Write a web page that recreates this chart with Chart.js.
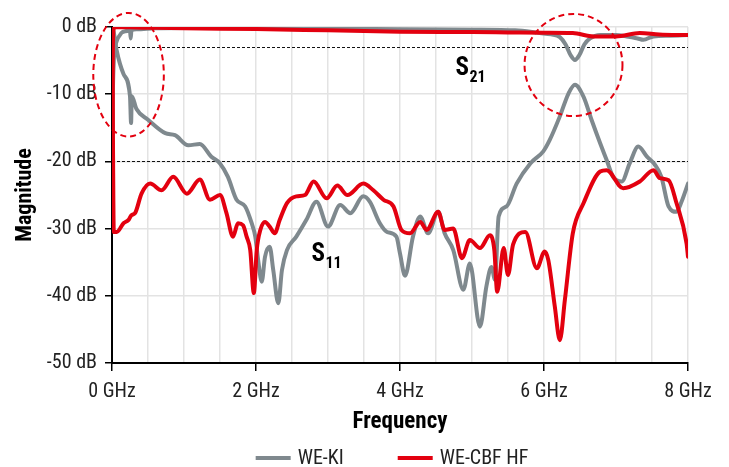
<!DOCTYPE html>
<html><head><meta charset="utf-8">
<script src="https://cdn.jsdelivr.net/npm/chart.js@4/dist/chart.umd.min.js"></script>
<style>html,body{margin:0;padding:0;background:#fff}</style>
</head><body>
<canvas id="c" width="729" height="467"></canvas>
<script>
// ---- data (frequency in GHz, magnitude in dB) ----
const seriesNames = ['WE-KI', 'WE-CBF HF'];
const xTickLabels = ['0 GHz', '2 GHz', '4 GHz', '6 GHz', '8 GHz'];
const yTickLabels = ['0 dB', '-10 dB', '-20 dB', '-30 dB', '-40 dB', '-50 dB'];
const refLevels = [-3, -20];

const kiS21Freq = [0, 0.01, 0.025, 0.04, 0.055, 0.13, 0.2, 0.25, 0.26, 0.27, 0.34, 0.6, 1, 2, 3, 4, 5, 5.6, 5.94, 6.1, 6.22, 6.3, 6.37, 6.43, 6.49, 6.56, 6.64, 6.78, 7.0, 7.15, 7.3, 7.38, 7.52, 7.75, 8.0];
const kiS21Db   = [-29.5, -12, -5, -3.2, -2.4, -0.9, -0.6, -0.55, -1.7, -0.5, -0.35, -0.2, -0.15, -0.15, -0.2, -0.35, -0.4, -0.5, -0.9, -1.1, -1.5, -2.6, -4.2, -4.9, -4.2, -2.6, -1.7, -1.2, -1.2, -1.4, -1.7, -1.9, -1.4, -1.3, -1.2];

const kiS11Freq = [0, 0.02, 0.065, 0.16, 0.25, 0.265, 0.275, 0.34, 0.5, 0.74, 0.875, 1.06, 1.22, 1.38, 1.5, 1.61, 1.73, 1.85, 1.94, 1.99, 2.03, 2.08, 2.125, 2.19, 2.24, 2.31, 2.36, 2.43, 2.56, 2.7, 2.84, 3.0, 3.17, 3.31, 3.49, 3.58, 3.72, 3.82, 3.95, 4.0, 4.07, 4.18, 4.28, 4.39, 4.53, 4.62, 4.74, 4.88, 4.97, 5.11, 5.2, 5.27, 5.32, 5.37, 5.48, 5.62, 5.81, 5.99, 6.08, 6.22, 6.34, 6.43, 6.55, 6.66, 6.78, 6.87, 6.96, 7.08, 7.19, 7.31, 7.43, 7.54, 7.63, 7.73, 7.84, 7.91, 8.0];
const kiS11Db   = [0, -0.5, -3.5, -7, -10.3, -14.3, -10.3, -12.2, -13.8, -15.8, -16.1, -17.6, -17.4, -19.3, -20.3, -22.3, -25.7, -26.7, -29.2, -31.2, -34.7, -37.9, -34.2, -32.7, -36.2, -41.1, -36.2, -33.2, -31.2, -28.7, -26, -29.7, -26.5, -27.7, -25.2, -26, -29.2, -30.5, -31.2, -33.7, -37, -31.2, -28.2, -30.7, -27.5, -30.7, -33.2, -39.1, -35.2, -44.6, -38.6, -35.7, -37.6, -28.2, -26.7, -23.3, -20.3, -18.5, -16.8, -13.3, -9.9, -8.6, -10.4, -13.8, -17.3, -19.8, -22.3, -23, -20.3, -17.8, -19.3, -20.5, -22.3, -26.7, -27.5, -26, -23.3];

const cbfS21Freq = [0, 0.008, 0.02, 0.05, 0.5, 1, 2, 3, 4, 5, 5.5, 6, 6.4, 6.69, 7.0, 7.33, 7.6, 8.0];
const cbfS21Db   = [-30, -8, -0.4, 0, -0.1, -0.2, -0.3, -0.5, -0.7, -0.75, -0.8, -0.85, -0.9, -1.4, -1.4, -0.9, -1.1, -1.2];

const cbfS11Freq = [0, 0.01, 0.025, 0.065, 0.16, 0.23, 0.27, 0.32, 0.41, 0.53, 0.69, 0.85, 1.04, 1.22, 1.36, 1.5, 1.59, 1.68, 1.75, 1.82, 1.87, 1.92, 1.97, 2.01, 2.06, 2.125, 2.19, 2.26, 2.33, 2.43, 2.56, 2.68, 2.8, 2.98, 3.13, 3.27, 3.49, 3.63, 3.77, 3.91, 4.02, 4.14, 4.28, 4.37, 4.53, 4.62, 4.74, 4.86, 4.97, 5.11, 5.25, 5.31, 5.35, 5.44, 5.5, 5.57, 5.74, 5.9, 6.01, 6.06, 6.15, 6.22, 6.29, 6.4, 6.55, 6.78, 6.87, 7.1, 7.33, 7.52, 7.61, 7.73, 7.84, 7.98, 8.0];
const cbfS11Db   = [0, -12, -30.5, -30.5, -29.2, -28.7, -28, -27.7, -24.8, -23.3, -24.3, -22.3, -24.8, -22.7, -25.7, -25, -27.7, -31.2, -29.2, -29.5, -31.2, -33.2, -39.6, -33.2, -30.2, -29, -29.7, -30.7, -28.7, -26.2, -25.2, -25, -23, -25.5, -23.6, -25, -23.3, -24.3, -25.7, -26.7, -30.2, -30.7, -29, -30.2, -27.5, -30.2, -30, -34.4, -31.7, -32.9, -31, -33.2, -39.4, -32.9, -36.9, -32.4, -30.5, -35.9, -33.4, -34.7, -41.6, -46.6, -40.6, -30.7, -26.2, -21.5, -21.3, -24, -23, -21.3, -22.5, -22.8, -26.2, -32.2, -34.2];

// annotation circles in data units: [centerGHz, centerDb, radiusGHz, radiusDb]
const circleKi  = [0.23, -7.1, 0.49, 9.2];
const circleCbf = [6.41, -5.65, 0.68, 7.6];
const labelS21 = [4.77, -7.2];
const labelS11 = [2.77, -34.8];

// ---- styles ----
const GRAY = '#7f898e';
const RED = '#e3000f';
const FONT = "'Liberation Sans Narrow','Arial Narrow','Roboto Condensed',Roboto,sans-serif";

function pts(xs, ys) { return xs.map((x, i) => ({ x: x, y: ys[i] })); }

const decor = {
  id: 'decor',
  beforeDatasetsDraw(chart) {
    const { ctx, chartArea: a, scales: { x, y } } = chart;
    ctx.save();
    ctx.strokeStyle = '#111';
    ctx.lineWidth = 1;
    ctx.setLineDash([3, 2]);
    refLevels.forEach(v => {
      const py = Math.round(y.getPixelForValue(v)) + 0.5;
      ctx.beginPath();
      ctx.moveTo(a.left, py);
      ctx.lineTo(a.right, py);
      ctx.stroke();
    });
    ctx.restore();
  },
  afterDatasetsDraw(chart) {
    const { ctx, scales: { x, y } } = chart;
    ctx.save();
    ctx.strokeStyle = RED;
    ctx.lineWidth = 2;
    ctx.setLineDash([6, 4]);
    [circleKi, circleCbf].forEach(c => {
      const cx = x.getPixelForValue(c[0]);
      const cy = y.getPixelForValue(c[1]);
      const rx = x.getPixelForValue(c[0] + c[2]) - cx;
      const ry = y.getPixelForValue(c[1] - c[3]) - cy;
      ctx.beginPath();
      ctx.ellipse(cx, cy, rx, ry, 0, 0, Math.PI * 2);
      ctx.stroke();
    });
    ctx.setLineDash([]);
    ctx.fillStyle = '#000';
    ctx.textBaseline = 'alphabetic';
    ctx.textAlign = 'left';
    [[labelS21, '21'], [labelS11, '11']].forEach(l => {
      const px = x.getPixelForValue(l[0][0]);
      const py = y.getPixelForValue(l[0][1]);
      ctx.font = "bold 25px " + FONT;
      ctx.fillText('S', px, py);
      const w = ctx.measureText('S').width;
      ctx.font = "bold 16px " + FONT;
      ctx.fillText(l[1], px + w + 0.5, py + 7);
    });
    ctx.restore();
  },
  afterDraw(chart) {
    const { ctx, chartArea: a } = chart;
    ctx.save();
    ctx.font = "20px " + FONT;
    ctx.textBaseline = 'middle';
    ctx.textAlign = 'left';
    const box = 35, gap = 7, spacing = 54;
    const colors = [GRAY, RED];
    const widths = seriesNames.map(n => ctx.measureText(n).width);
    let total = 0;
    widths.forEach((w, i) => { total += box + gap + w + (i < widths.length - 1 ? spacing : 0); });
    let cx = (a.left + a.right) / 2 - 8 - total / 2;
    const cy = 458;
    seriesNames.forEach((n, i) => {
      ctx.fillStyle = colors[i];
      ctx.fillRect(cx, cy - 2, box, 4);
      ctx.fillStyle = '#222';
      ctx.fillText(n, cx + box + gap, cy + 1);
      cx += box + gap + widths[i] + spacing;
    });
    ctx.restore();
  }
};

new Chart(document.getElementById('c'), {
  type: 'line',
  data: {
    datasets: [
      { label: seriesNames[1] + ' S21', data: pts(cbfS21Freq, cbfS21Db), borderColor: RED, order: 1 },
      { label: seriesNames[1] + ' S11', data: pts(cbfS11Freq, cbfS11Db), borderColor: RED, order: 1 },
      { label: seriesNames[0] + ' S21', data: pts(kiS21Freq, kiS21Db), borderColor: GRAY, order: 2 },
      { label: seriesNames[0] + ' S11', data: pts(kiS11Freq, kiS11Db), borderColor: GRAY, order: 2 }
    ]
  },
  options: {
    responsive: false,
    animation: false,
    devicePixelRatio: 1,
    elements: {
      point: { radius: 0 },
      line: { borderWidth: 4, tension: 0.25, cubicInterpolationMode: 'monotone', fill: false, borderJoinStyle: 'round', borderCapStyle: 'round' }
    },
    layout: { padding: { left: 10, right: 41, top: 27, bottom: 24 } },
    plugins: { legend: { display: false }, tooltip: { enabled: false } },
    scales: {
      x: {
        type: 'linear', min: 0, max: 8,
        afterFit: s => { s.height = 80; },
        ticks: {
          stepSize: 0.5, autoSkip: false, maxRotation: 0, padding: 9,
          color: '#222', font: { family: FONT, size: 20 },
          callback: v => (v % 2 === 0 ? xTickLabels[v / 2] : '')
        },
        grid: {
          color: '#e3e3e3', lineWidth: 1.5, tickLength: 8,
          tickColor: c => (c.tick && c.tick.value % 2 === 0 ? '#000' : 'rgba(0,0,0,0)'),
          tickWidth: 1.5
        },
        border: { color: '#000', width: 2 },
        title: { display: true, text: 'Frequency', color: '#000', font: { family: FONT, size: 23, weight: 'bold' }, padding: { top: 0, bottom: 7 } }
      },
      y: {
        type: 'linear', min: -50, max: 0,
        afterFit: s => { s.width = 102; },
        ticks: {
          stepSize: 10, padding: 8, color: '#222', font: { family: FONT, size: 20 },
          callback: v => yTickLabels[-v / 10]
        },
        grid: { color: '#e3e3e3', lineWidth: 1.5, tickLength: 7, tickColor: '#000', tickWidth: 1.5 },
        border: { color: '#000', width: 2 },
        title: { display: true, text: 'Magnitude', color: '#000', font: { family: FONT, size: 22, weight: 'bold' }, padding: { top: 2, bottom: 0 } }
      }
    }
  },
  plugins: [decor]
});
</script>
</body></html>
